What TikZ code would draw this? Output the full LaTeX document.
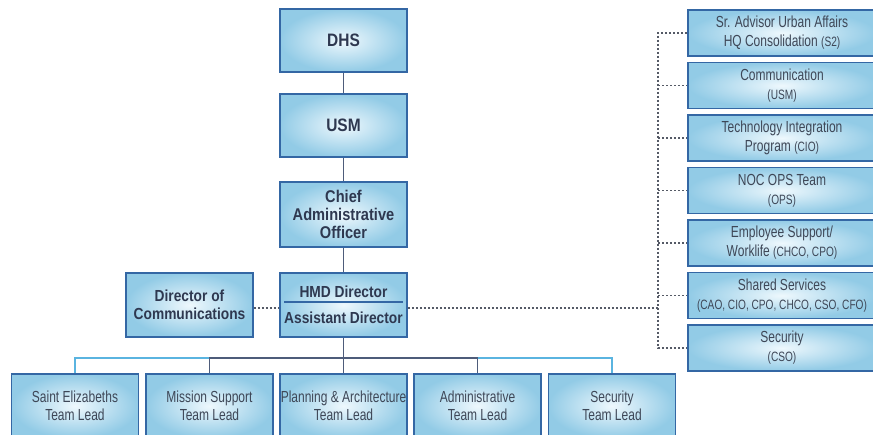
\documentclass[tikz,border=0pt]{standalone}
\usepackage{fontspec}
\usetikzlibrary{calc}
\newfontfamily\regf{Liberation Sans}[FakeStretch=0.75]
\newfontfamily\boldf{Liberation Sans}[FakeStretch=0.86]
\definecolor{bordc}{HTML}{3467A4}
\definecolor{boxin}{HTML}{EEF8FD}
\definecolor{boxout}{HTML}{92CBE6}
\definecolor{txtc}{HTML}{3E4757}
\definecolor{btxt}{HTML}{2E3850}
\definecolor{linec}{HTML}{4E5C7A}
\definecolor{lightc}{HTML}{5AB4E0}
\definecolor{dotc}{HTML}{555A66}
\tikzset{
  basebox/.style={draw=bordc, line width=1.8pt, inner color=boxin, outer color=boxout,
    inner sep=0pt, align=center},
  topbox/.style={basebox, minimum width=127pt, minimum height=63pt, text=btxt,
    font=\boldf\bfseries\fontsize{16}{18}\selectfont},
  leadbox/.style={basebox, minimum width=127pt, minimum height=64pt, text=txtc,
    font=\regf\fontsize{16}{18}\selectfont},
  sidebox/.style={basebox, minimum width=188pt, minimum height=46pt, text=txtc,
    font=\regf\fontsize{16}{19}\selectfont},
  solidln/.style={draw=linec, line width=1.8pt},
  lightln/.style={draw=lightc, line width=1.8pt},
  dotln/.style={draw=dotc, line width=1.3pt, dash pattern=on 2pt off 2pt},
  sepln/.style={draw=bordc, line width=1.8pt},
}
\newcommand{\sm}[1]{{\fontsize{13.5}{19}\selectfont #1}}
\begin{document}
\begin{tikzpicture}[x=1pt,y=-1pt]
\useasboundingbox (0,0) rectangle (873,434);
\clip (0,0) rectangle (873,434);
% top chain
\node[topbox, font=\boldf\bfseries\fontsize{18}{20}\selectfont] (dhs) at (343.5,40.5) {DHS};
\node[topbox, font=\boldf\bfseries\fontsize{18}{20}\selectfont] (usm) at (343.5,125.5) {USM};
\node[topbox, minimum height=65pt, font=\boldf\bfseries\fontsize{17}{18}\selectfont] (cao) at (343.5,214.5) {Chief\\Administrative\\Officer};
\node[topbox, minimum height=64pt] (hmd) at (343.5,305) {HMD Director\\[8pt]Assistant Director};
\node[topbox, minimum height=64pt] (dcom) at (189.5,305) {Director of\\Communications};
\draw[sepln] ($(hmd.west)+(5,-3)$) -- ($(hmd.east)+(-5,-3)$);
\draw[solidln] (dhs) -- (usm);
\draw[solidln] (usm) -- (cao);
\draw[solidln] (cao) -- (hmd);
\draw[dotln] (dcom.east |- 0,308) -- (hmd.west |- 0,308);
% team leads
\node[leadbox] (se) at (75,406) {Saint Elizabeths\\Team Lead};
\node[leadbox] (ms) at (209.5,406) {Mission Support\\Team Lead};
\node[leadbox] (pa) at (343.5,406) {Planning \& Architecture\\Team Lead};
\node[leadbox] (ad) at (477.5,406) {Administrative\\Team Lead};
\node[leadbox] (sec) at (612,406) {Security\\Team Lead};
\coordinate (bus) at (343.5,358);
\draw[lightln] (se.north) |- (ms.north |- bus);
\draw[lightln] (sec.north) |- (ad.north |- bus);
\draw[solidln] (ms.north) |- (ad.north |- bus) -- (ad.north);
\draw[solidln] (hmd.south) -- (pa.north);
% right column
\node[sidebox] (r1) at (782,33) {Sr. Advisor Urban Affairs\\HQ Consolidation \sm{(S2)}};
\node[sidebox] (r2) at (782,85.5) {Communication\\\sm{(USM)}};
\node[sidebox] (r3) at (782,138) {Technology Integration\\Program \sm{(CIO)}};
\node[sidebox] (r4) at (782,190.5) {NOC OPS Team\\\sm{(OPS)}};
\node[sidebox] (r5) at (782,243) {Employee Support/\\Worklife \sm{(CHCO, CPO)}};
\node[sidebox] (r6) at (782,295.5) {Shared Services\\\sm{(CAO, CIO, CPO, CHCO, CSO, CFO)}};
\node[sidebox] (r7) at (782,348) {Security\\\sm{(CSO)}};
\coordinate (sp) at (658,308);
\draw[dotln] (hmd.east |- sp) -- (sp);
\draw[dotln] (r1.west) -| (sp |- r1.west) -- (sp |- r7.west) -- (r7.west);
\foreach \r in {r2,r3,r4,r5,r6} \draw[dotln] (sp |- \r.west) -- (\r.west);
\end{tikzpicture}
\end{document}
